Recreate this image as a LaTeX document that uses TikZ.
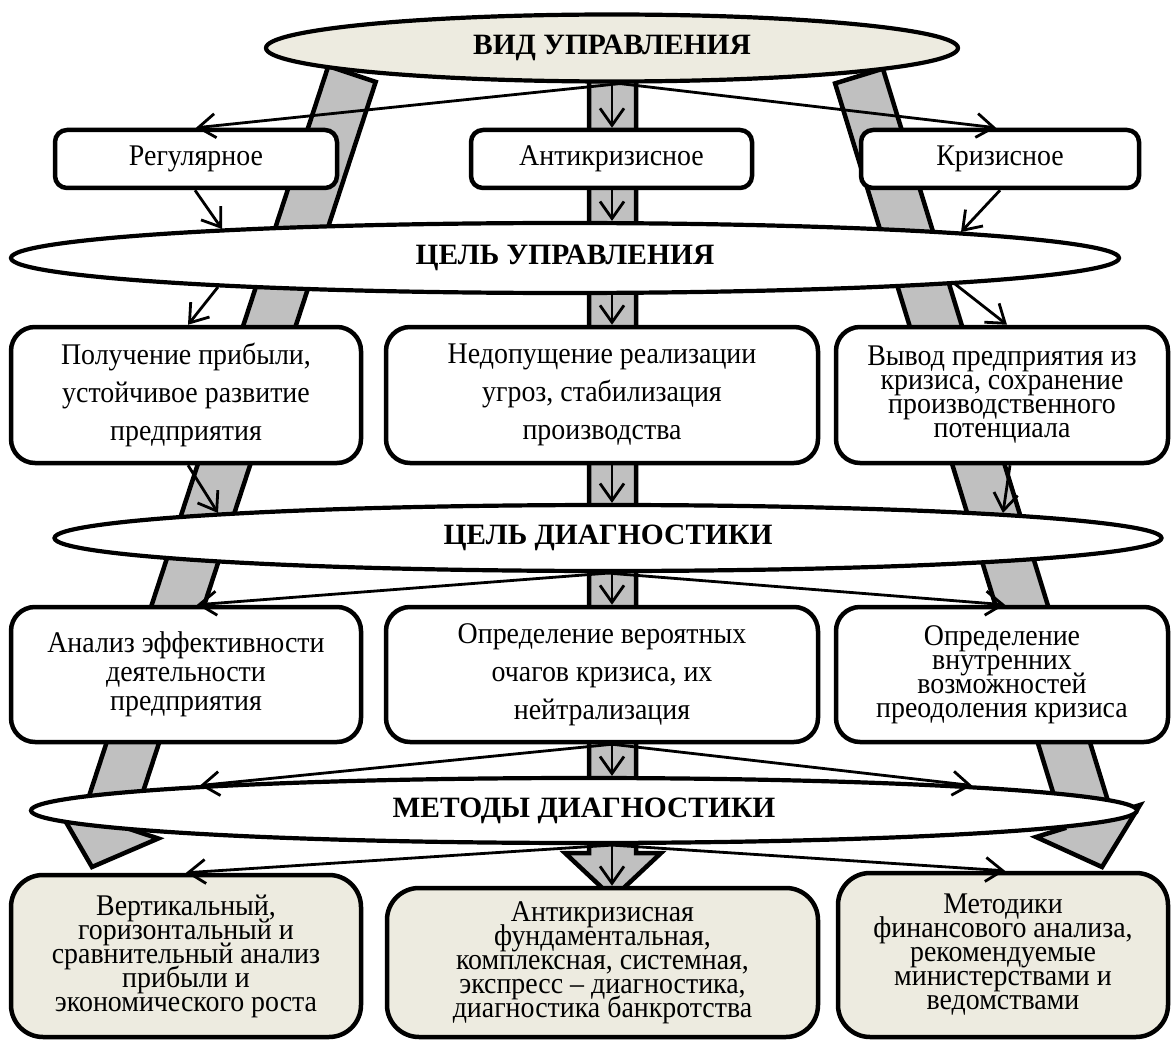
\documentclass[tikz,border=0pt]{standalone}
\usepackage{fontspec}
\setmainfont{Liberation Serif}[FakeStretch=0.93]
\newfontfamily\headfont{Liberation Serif}
\usetikzlibrary{shapes.geometric,arrows.meta,calc}
\definecolor{paper}{RGB}{237,235,224}
\definecolor{bandgray}{RGB}{192,192,192}
\newcommand\fsLoose{\fontsize{30}{38}\selectfont}
\newcommand\fsMid{\fontsize{30}{29}\selectfont}
\newcommand\fsTight{\fontsize{30}{24}\selectfont}
\newcommand\fsHead{\headfont\fontsize{29.5}{34}\selectfont\bfseries}
\lineskiplimit=-100pt
\begin{document}
\begin{tikzpicture}[x=1pt,y=-1pt,
  card/.style={draw, line width=4.5pt, fill=white, align=center, inner sep=0pt, rounded corners=24pt},
  small/.style={card, rounded corners=12pt, font=\fsLoose, minimum height=58pt},
  basecard/.style={card, fill=paper, rounded corners=32pt, font=\fsTight},
  oval/.style={draw, ellipse, line width=4.2pt, fill=white, inner sep=0pt, font=\fsHead},
  band/.style={draw, line width=4.5pt, fill=bandgray, line join=miter},
  link/.style={line width=2.8pt, -{Straight Barb[length=17pt,width=24pt]}},
]
\useasboundingbox (0,0) rectangle (1176,1043);
\fill[white] (0,0) rectangle (1176,1043);

% broad grey arrows behind the scheme
\draw[band] (328.3,66.1) -- (375.7,81.9) -- (130.7,829.4) -- (158.2,838.5) -- (92,867) -- (55.8,804.5) -- (83.3,813.6) -- cycle;
\draw[band] (882.9,68.7) -- (835.1,83.4) -- (1064.1,828.4) -- (1036,837) -- (1102,867) -- (1140,805) -- (1111.9,813.7) -- cycle;
\draw[band] (589,60) -- (589,853) -- (565,853) -- (613,898) -- (661,853) -- (636,853) -- (636,60) -- cycle;

% level headings
\node[oval, fill=paper, minimum width=692pt, minimum height=67pt] (vid) at (612,48) {ВИД УПРАВЛЕНИЯ};
\node[oval, minimum width=1108pt, minimum height=70pt] (cu) at (565,258) {ЦЕЛЬ УПРАВЛЕНИЯ};
\node[oval, minimum width=1107pt, minimum height=66pt] (cd) at (608,538) {ЦЕЛЬ ДИАГНОСТИКИ};
\node[oval, minimum width=1106pt, minimum height=65pt] (md) at (584,810.5) {МЕТОДЫ ДИАГНОСТИКИ};

% points on the rims of the ellipses where the side connectors meet them
\coordinate (vidS) at ($(vid.south)+(8,0)$);
\coordinate (cuTL) at ($(cu.center)+(-343,-29)$);
\coordinate (cuTR) at ($(cu.center)+(396,-26)$);
\coordinate (cuBL) at ($(cu.center)+(-347,29)$);
\coordinate (cuBR) at ($(cu.center)+(390,26)$);
\coordinate (cdTL) at ($(cd.center)+(-390,-25)$);
\coordinate (cdTR) at ($(cd.center)+(395,-25)$);
\coordinate (mdTL) at ($(md.center)+(-384,-25)$);
\coordinate (mdTR) at ($(md.center)+(388,-25)$);

% kinds of management
\node[small, minimum width=282pt] (reg) at (196,159) {Регулярное};
\node[small, minimum width=281pt] (anti) at (611.5,159) {Антикризисное};
\node[small, minimum width=278pt] (kriz) at (1000,159) {Кризисное};

% goals of management
\node[card, font=\fsLoose, minimum width=350pt, minimum height=136pt] (p2) at (186,395) {Получение прибыли,\\устойчивое развитие\\предприятия};
\node[card, font=\fsLoose, minimum width=432pt, minimum height=136pt] (n2) at (602,395) {Недопущение реализации\\угроз, стабилизация\\производства};
\node[card, font=\fsTight, minimum width=332pt, minimum height=136pt] (w2) at (1002,395) {Вывод предприятия из\\кризиса, сохранение\\производственного\\потенциала};

% goals of diagnostics
\node[card, font=\fsMid, minimum width=350pt, minimum height=135pt] (a3) at (186,674.5) {Анализ эффективности\\деятельности\\предприятия};
\node[card, font=\fsLoose, minimum width=432pt, minimum height=135pt] (o3) at (602,674.5) {Определение вероятных\\очагов кризиса, их\\нейтрализация};
\node[card, font=\fsTight, minimum width=332pt, minimum height=135pt] (v3) at (1002,674.5) {Определение\\внутренних\\возможностей\\преодоления кризиса};

% methods
\node[basecard, minimum width=350pt, minimum height=162pt] (g4) at (186,956) {Вертикальный,\\горизонтальный и\\сравнительный анализ\\прибыли и\\экономического роста};
\node[basecard, minimum width=431pt, minimum height=149pt] (k4) at (602.5,962.5) {Антикризисная\\фундаментальная,\\комплексная, системная,\\экспресс – диагностика,\\диагностика банкротства};
\node[basecard, minimum width=330pt, minimum height=164pt] (m4) at (1003,955) {Методики\\финансового анализа,\\рекомендуемые\\министерствами и\\ведомствами};

% thin connectors
\coordinate (axis) at (612,0);
\draw[link] (vidS) -- (reg.north);
\draw[link] (vidS) -- ($(kriz.north)+(-4,0)$);
\draw[link] (axis |- vid.south) -- (axis |- anti.north);
\draw[link] ($(reg.south)+(-1,0)$) -- (cuTL);
\draw[link] (axis |- anti.south) -- (axis |- cu.north);
\draw[link] (kriz.south) -- (cuTR);
\draw[link] (cuBL) -- ($(p2.north)+(2,0)$);
\draw[link] (axis |- cu.south) -- (axis |- n2.north);
\draw[link] (cuBR) -- ($(w2.north)+(5,0)$);
\draw[link] ($(p2.south)+(2,0)$) -- (cdTL);
\draw[link] (axis |- n2.south) -- (axis |- cd.north);
\draw[link] ($(w2.south)+(8,0)$) -- (cdTR);
\draw[link] (cd.south) -- ($(a3.north)+(11,0)$);
\draw[link] (axis |- cd.south) -- (axis |- o3.north);
\draw[link] (cd.south) -- ($(v3.north)+(3,0)$);
\draw[link] (axis |- o3.south) -- (mdTL);
\draw[link] (axis |- o3.south) -- (axis |- md.north);
\draw[link] (axis |- o3.south) -- (mdTR);
\draw[link] (axis |- md.south) -- (g4.north);
\draw[link] (axis |- md.south) -- (axis |- k4.north);
\draw[link] (axis |- md.south) -- ($(m4.north)+(2,0)$);
\end{tikzpicture}
\end{document}
